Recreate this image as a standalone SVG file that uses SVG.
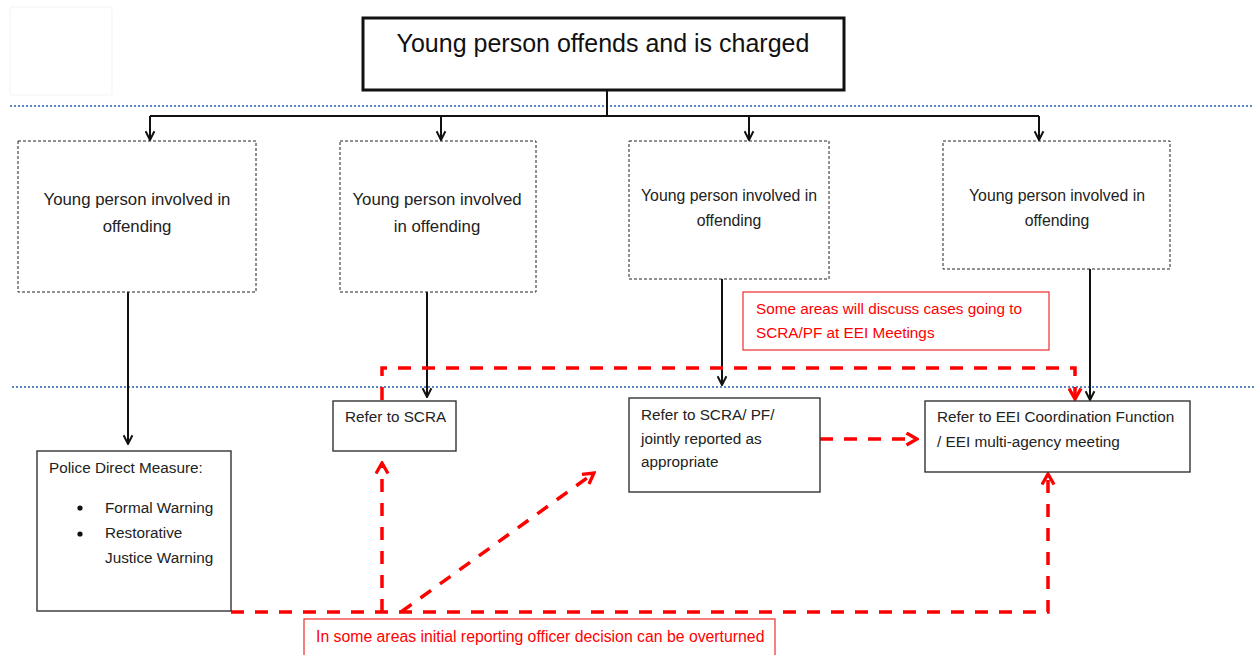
<svg xmlns="http://www.w3.org/2000/svg" width="1254" height="655" viewBox="0 0 1254 655">
<defs>
<style>
text{font-family:"Liberation Sans",Arial,sans-serif;fill:#222}
.t24{font-size:25px;fill:#111}
.t16{font-size:16.8px}
.t15{font-size:15.3px}
.t155{font-size:15.8px}
.red{fill:#f00}
.dash{fill:#fff;stroke:#222;stroke-width:1;stroke-dasharray:3 2}
.solid{fill:#fff;stroke:#333;stroke-width:1.4}
.rbox{fill:#fff;stroke:#f03c3c;stroke-width:1.3}
.blk{fill:none;stroke:#111;stroke-width:2}
.rd{fill:none;stroke:#f00;stroke-width:3.5;stroke-dasharray:13 11}
.sep{stroke:#5b86c0;stroke-width:2;stroke-dasharray:2 2}
</style>
<marker id="ab" viewBox="0 0 10 10" refX="9" refY="5" markerWidth="11" markerHeight="11" markerUnits="userSpaceOnUse" orient="auto">
<path d="M1,1 L9,5 L1,9" fill="none" stroke="#111" stroke-width="1.8"/>
</marker>
<marker id="ar" viewBox="0 0 10 10" refX="8.5" refY="5" markerWidth="15" markerHeight="15" markerUnits="userSpaceOnUse" orient="auto">
<path d="M1.5,1 L8.5,5 L1.5,9" fill="none" stroke="#f00" stroke-width="2.2"/>
</marker>
</defs>
<rect width="1254" height="655" fill="#fff"/>
<rect x="10" y="7" width="102" height="88" rx="2" fill="none" stroke="#f3f3f3" stroke-width="1"/>
<line class="sep" x1="10" y1="106" x2="1254" y2="106"/>
<line class="sep" x1="12" y1="387" x2="1254" y2="387"/>

<g id="connectors">
<path class="blk" d="M607,90 V116 M150,116 H1039"/>
<path class="blk" d="M150,116 V140" marker-end="url(#ab)"/>
<path class="blk" d="M441,116 V140" marker-end="url(#ab)"/>
<path class="blk" d="M749,116 V140" marker-end="url(#ab)"/>
<path class="blk" d="M1039,116 V140" marker-end="url(#ab)"/>
<path class="blk" d="M128,292 V444" marker-end="url(#ab)" stroke-width="1.8"/>
<path class="blk" d="M427,292 V397" marker-end="url(#ab)" stroke-width="1.8"/>
<path class="blk" d="M722,279 V385" marker-end="url(#ab)" stroke-width="1.8"/>
<path class="blk" d="M1090,269 V400" marker-end="url(#ab)" stroke-width="1.8"/>
<path class="rd" d="M382,400 V368 H1075 V399" marker-end="url(#ar)"/>
<path class="rd" d="M231,612 H1048 V474" marker-end="url(#ar)"/>
<path class="rd" d="M382,612 V463" marker-end="url(#ar)"/>
<path class="rd" d="M401,612 L594,473" marker-end="url(#ar)"/>
<path class="rd" d="M820,439 H917" marker-end="url(#ar)"/>
</g>

<g id="n-top">
<rect x="363" y="18" width="481" height="72" fill="#fff" stroke="#111" stroke-width="3"/>
<text class="t24" x="603" y="52" text-anchor="middle">Young person offends and is charged</text>
</g>

<g id="n-yp1">
<rect class="dash" x="18" y="141" width="238" height="151"/>
<text class="t16" x="137" y="205" text-anchor="middle">Young person involved in</text>
<text class="t16" x="137" y="232" text-anchor="middle">offending</text>
</g>
<g id="n-yp2">
<rect class="dash" x="340" y="141" width="196" height="151"/>
<text class="t16" x="437" y="205" text-anchor="middle">Young person involved</text>
<text class="t16" x="437" y="232" text-anchor="middle">in offending</text>
</g>
<g id="n-yp3">
<rect class="dash" x="629" y="141" width="200" height="138"/>
<text class="t155" x="729" y="201" text-anchor="middle">Young person involved in</text>
<text class="t155" x="729" y="226" text-anchor="middle">offending</text>
</g>
<g id="n-yp4">
<rect class="dash" x="943" y="141" width="227" height="128"/>
<text class="t155" x="1057" y="201" text-anchor="middle">Young person involved in</text>
<text class="t155" x="1057" y="226" text-anchor="middle">offending</text>
</g>

<g id="n-note1">
<rect class="rbox" x="743" y="292" width="306" height="58"/>
<text class="t15 red" x="756" y="314">Some areas will discuss cases going to</text>
<text class="t15 red" x="756" y="338">SCRA/PF at EEI Meetings</text>
</g>

<g id="n-police">
<rect class="solid" x="37" y="451" width="194" height="160"/>
<text class="t15" x="49" y="473">Police Direct Measure:</text>
<circle cx="80" cy="508" r="2.6" fill="#111"/>
<circle cx="80" cy="534" r="2.6" fill="#111"/>
<text class="t15" x="105" y="513">Formal Warning</text>
<text class="t15" x="105" y="538">Restorative</text>
<text class="t15" x="105" y="563">Justice Warning</text>
</g>

<g id="n-scra">
<rect class="solid" x="333" y="401" width="123" height="50"/>
<text class="t15" x="345" y="422">Refer to SCRA</text>
</g>

<g id="n-scrapf">
<rect class="solid" x="629" y="398" width="191" height="94"/>
<text class="t15" x="641" y="420">Refer to SCRA/ PF/</text>
<text class="t15" x="641" y="444">jointly reported as</text>
<text class="t15" x="641" y="467">appropriate</text>
</g>

<g id="n-eei">
<rect class="solid" x="925" y="401" width="265" height="71"/>
<text class="t15" x="937" y="422">Refer to EEI Coordination Function</text>
<text class="t15" x="937" y="447">/ EEI multi-agency meeting</text>
</g>

<g id="n-note2">
<rect class="rbox" x="304" y="619" width="471" height="50"/>
<text class="t155 red" x="316" y="642">In some areas initial reporting officer decision can be overturned</text>
</g>
</svg>
